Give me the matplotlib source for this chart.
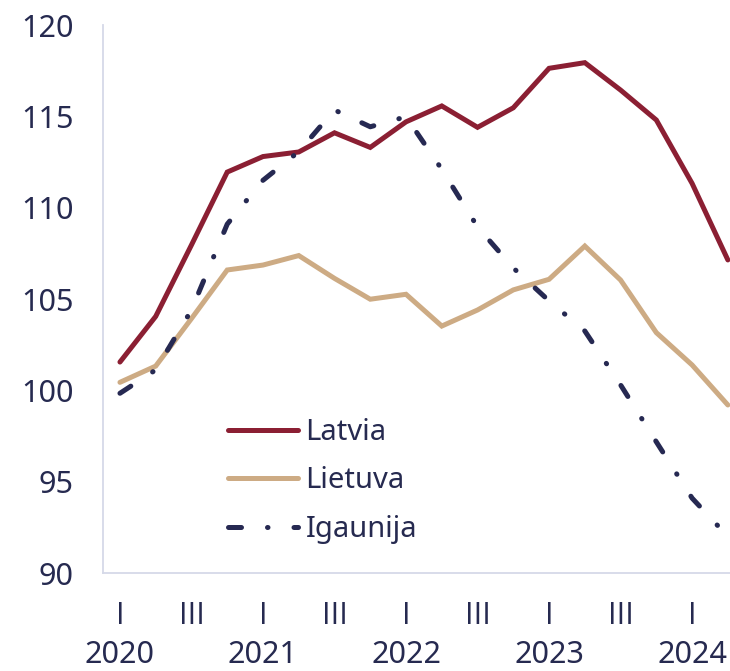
import matplotlib
matplotlib.use('Agg')
import matplotlib.pyplot as plt

# quarters 2020 Q1 .. 2024 Q2
quarters = list(range(18))
latvia = [101.55, 104.05, 107.96, 111.95, 112.8, 113.05, 114.1, 113.3, 114.7, 115.57,
          114.4, 115.47, 117.63, 117.94, 116.44, 114.8, 111.33, 107.14]
lietuva = [100.44, 101.33, 103.93, 106.59, 106.86, 107.38, 106.13, 104.99, 105.26, 103.52,
           104.4, 105.5, 106.08, 107.9, 106.04, 103.16, 101.39, 99.2]
igaunija = [99.84, 101.12, 104.4, 109.1, 111.5, 113.07, 115.35, 114.43, 114.98, 112.1,
            108.95, 106.7, 104.9, 103.25, 100.3, 97.18, 94.1, 92.0]

tick_pos = [0, 2, 4, 6, 8, 10, 12, 14, 16]
tick_labels = ['I', 'III', 'I', 'III', 'I', 'III', 'I', 'III', 'I']
year_pos = [0, 4, 8, 12, 16]
year_labels = ['2020', '2021', '2022', '2023', '2024']

TXT = '#262a50'
plt.rcParams['font.family'] = ['Noto Sans', 'DejaVu Sans']

fig = plt.figure(figsize=(7.3, 6.71), dpi=100)
ax = fig.add_axes([0.141, 0.146, 0.859, 0.8167])

lw = 3.6
ax.plot(quarters, latvia, color='#8b1f33', lw=lw, solid_capstyle='round',
        solid_joinstyle='miter', label='Latvia')
ax.plot(quarters, lietuva, color='#cdab84', lw=lw, solid_capstyle='round',
        solid_joinstyle='miter', label='Lietuva')
ax.plot(quarters, igaunija, color='#262952', lw=lw, dashes=(2.6, 5.2, 0.1, 5.2),
        dash_capstyle='round', label='Igaunija')

ax.set_xlim(-0.476, 17.06)
ax.set_ylim(90, 120)
ax.set_yticks([90, 95, 100, 105, 110, 115, 120])
ax.set_xticks(tick_pos)
ax.set_xticklabels(tick_labels, family='Open Sans')
ax.tick_params(axis='both', length=0, labelsize=22, colors=TXT)
ax.tick_params(axis='y', pad=21)
ax.tick_params(axis='x', pad=20)

for s in ['top', 'right']:
    ax.spines[s].set_visible(False)
for s in ['left', 'bottom']:
    ax.spines[s].set_color('#d5d9e8')
    ax.spines[s].set_linewidth(1.3)

for xp, yl in zip(year_pos, year_labels):
    ax.annotate(yl, xy=(xp, 0), xycoords=('data', 'axes fraction'),
                xytext=(0, -59), textcoords='offset points',
                ha='center', va='center', fontsize=22, color=TXT)

leg = ax.legend(loc='center left', bbox_to_anchor=(0.199, 0.168), frameon=False,
                fontsize=21, handlelength=2.41, handletextpad=0.26,
                labelspacing=0.67, borderpad=0, borderaxespad=0)
for t in leg.get_texts():
    t.set_color(TXT)

fig.savefig('out.png', dpi=100, facecolor='white')
